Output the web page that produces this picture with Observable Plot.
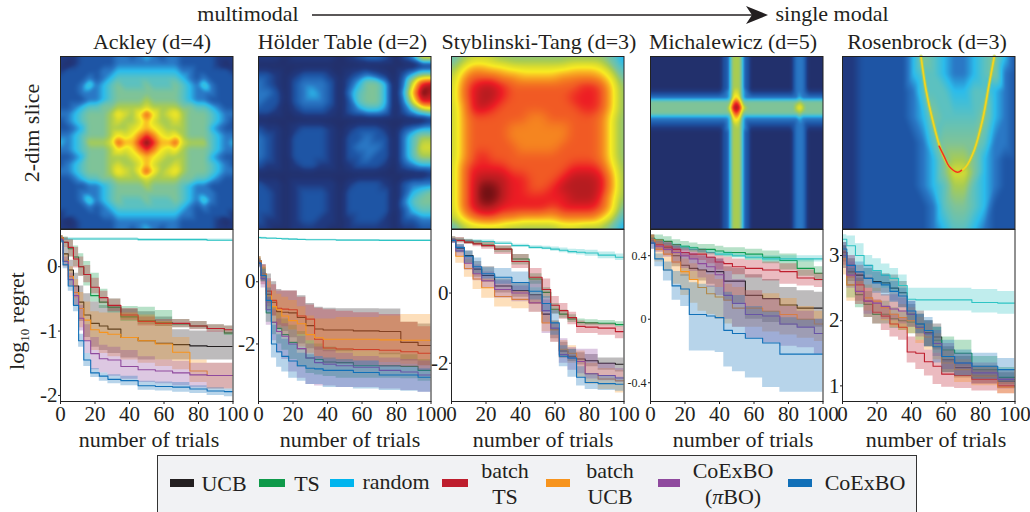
<!DOCTYPE html>
<html><head><meta charset="utf-8">
<script src="https://cdn.jsdelivr.net/npm/d3@7"></script>
<script src="https://cdn.jsdelivr.net/npm/@observablehq/plot@0.6"></script>
<style>
html,body{margin:0;padding:0;background:#fff}
#page{position:relative;width:1030px;height:512px;overflow:hidden;font-family:"Liberation Serif",serif;color:#231f20}
.t{position:absolute;white-space:nowrap;transform:translate(-50%,-50%);font-size:22px;line-height:1}
.rot{transform:translate(-50%,-50%) rotate(-90deg)}
.sw{position:absolute;height:8px}
sub{font-size:13px;line-height:0}
</style></head><body><div id="page"></div>
<script>
/* methods and colours */
var methods = ["UCB","TS","random","batchTS","batchUCB","piBO","CoExBO"];
var lineColors = ["#231f20","#0f9a4a","#2ec4c4","#be1e2d","#f7941d","#8f4a9e","#1170b8"];
var legendColors = ["#231f20","#0f9a4a","#00b5ee","#be1e2d","#f7941d","#8f4a9e","#1170b8"];
var heatColors = ["#22306c","#20397f","#1e55a5","#2a78c5","#2bbcec","#5cc1c0","#7fc398","#a9cc52","#d8dc30","#f9ec22","#f9b423","#f58520","#f15a24","#ed1c24","#b51c20","#6a0f12"];

/* Ackley */
var ackley_x=[0,3,6,9,12,15,20,25,30,40,50,60,70,80,90,100];
var ackley_UCB=[.45,.2,-.05,-.3,-.55,-.75,-.88,-.92,-.97,-1.1,-1.15,-1.19,-1.21,-1.23,-1.24,-1.24];
var ackley_UCB_lo=[.42,.1,-.2,-.5,-.85,-1.1,-1.25,-1.3,-1.35,-1.42,-1.45,-1.45,-1.45,-1.45,-1.45,-1.45];
var ackley_UCB_hi=[.48,.3,.1,-.1,-.3,-.42,-.55,-.6,-.62,-.66,-.7,-.78,-.98,-1,-1,-1.02];
var ackley_TS=[.45,.38,.28,.15,0,-.12,-.45,-.55,-.63,-.78,-.84,-.87,-.89,-.92,-.96,-1.03];
var ackley_TS_lo=[.42,.3,.15,0,-.15,-.3,-.55,-.65,-.72,-.85,-.9,-.93,-.95,-.97,-1,-1.07];
var ackley_TS_hi=[.48,.46,.42,.32,.2,.08,-.1,-.35,-.5,-.62,-.63,-.68,-.82,-.85,-.9,-.92];
var ackley_random=[.43,.43,.43,.43,.43,.43,.43,.43,.43,.43,.42,.42,.42,.42,.41,.41];
var ackley_random_lo=[.41,.41,.41,.41,.41,.41,.41,.41,.41,.41,.4,.4,.4,.4,.39,.39];
var ackley_random_hi=[.45,.45,.45,.45,.45,.45,.45,.45,.45,.45,.44,.44,.44,.44,.43,.43];
var ackley_batchTS=[.45,.38,.3,.12,0,-.12,-.32,-.48,-.6,-.75,-.85,-.88,-.88,-.92,-.96,-.98];
var ackley_batchTS_lo=[.42,.3,.15,-.02,-.15,-.25,-.42,-.58,-.7,-.83,-.92,-.93,-.95,-.98,-1.02,-1.05];
var ackley_batchTS_hi=[.48,.45,.42,.3,.15,.02,-.18,-.38,-.5,-.65,-.78,-.82,-.82,-.85,-.9,-.92];
var ackley_batchUCB=[.45,.1,-.15,-.4,-.65,-.83,-.98,-1.02,-1.05,-1.1,-1.15,-1.2,-1.33,-1.62,-1.69,-1.69];
var ackley_batchUCB_lo=[.42,0,-.3,-.6,-.95,-1.15,-1.3,-1.35,-1.4,-1.45,-1.5,-1.55,-1.6,-1.8,-1.9,-1.9];
var ackley_batchUCB_hi=[.48,.2,0,-.2,-.4,-.55,-.7,-.72,-.72,-.72,-.75,-.85,-1.1,-1.45,-1.5,-1.5];
var ackley_piBO=[.42,.08,-.2,-.45,-.8,-1.15,-1.35,-1.43,-1.45,-1.55,-1.6,-1.62,-1.65,-1.68,-1.69,-1.69];
var ackley_piBO_lo=[.38,0,-.3,-.6,-1,-1.35,-1.6,-1.65,-1.7,-1.75,-1.8,-1.82,-1.85,-1.88,-1.9,-1.9];
var ackley_piBO_hi=[.46,.15,-.1,-.3,-.6,-.9,-1.1,-1.22,-1.25,-1.3,-1.4,-1.45,-1.47,-1.5,-1.5,-1.5];
var ackley_CoExBO=[.4,.03,-.3,-.6,-1.15,-1.45,-1.65,-1.7,-1.75,-1.77,-1.85,-1.86,-1.87,-1.9,-1.93,-1.94];
var ackley_CoExBO_lo=[.36,-.03,-.38,-.7,-1.25,-1.55,-1.72,-1.78,-1.82,-1.85,-1.92,-1.93,-1.95,-1.97,-2,-2.02];
var ackley_CoExBO_hi=[.44,.1,-.2,-.5,-1.05,-1.35,-1.58,-1.65,-1.68,-1.7,-1.78,-1.79,-1.8,-1.85,-1.88,-1.9];

/* Holder Table */
var holder_x=[0,3,6,9,12,15,20,25,30,35,40,50,60,80,85,100];
var holder_UCB=[.67,.25,-.4,-.66,-.96,-.98,-1,-1.15,-1.41,-1.52,-1.55,-1.55,-1.58,-1.6,-1.95,-2.05];
var holder_UCB_lo=[.55,.05,-.7,-1.1,-1.5,-1.6,-1.8,-2,-2.15,-2.2,-2.25,-2.25,-2.25,-2.35,-2.55,-2.7];
var holder_UCB_hi=[.75,.55,.25,0,-.25,-.3,-.3,-.45,-.7,-.82,-.85,-.87,-.87,-.88,-1.3,-1.36];
var holder_TS=[.67,.2,-1,-1.3,-1.5,-1.7,-1.95,-2.15,-2.45,-2.5,-2.58,-2.6,-2.7,-2.7,-2.72,-2.85];
var holder_TS_lo=[.5,0,-1.3,-1.7,-2,-2.2,-2.5,-2.75,-2.95,-3,-3.05,-3.1,-3.1,-3.1,-3.12,-3.2];
var holder_TS_hi=[.8,.45,-.5,-.8,-1,-1.2,-1.4,-1.6,-1.9,-2,-2.1,-2.15,-2.25,-2.3,-2.35,-2.5];
var holder_random=[1.42,1.41,1.4,1.4,1.39,1.38,1.37,1.36,1.35,1.35,1.35,1.34,1.34,1.33,1.33,1.33];
var holder_random_lo=[1.4,1.39,1.38,1.38,1.37,1.36,1.35,1.34,1.33,1.33,1.33,1.32,1.32,1.31,1.31,1.31];
var holder_random_hi=[1.44,1.43,1.42,1.42,1.41,1.4,1.39,1.38,1.37,1.37,1.37,1.36,1.36,1.35,1.35,1.35];
var holder_batchTS=[.67,.2,-.3,-.6,-.85,-.88,-.9,-1.1,-1.2,-1.85,-2.13,-2.16,-2.18,-2.2,-2.25,-2.3];
var holder_batchTS_lo=[.5,-.1,-.8,-1.1,-1.4,-1.45,-1.55,-1.7,-1.9,-2.5,-2.65,-2.65,-2.7,-2.75,-2.75,-2.85];
var holder_batchTS_hi=[.8,.55,.1,-.1,-.3,-.3,-.3,-.5,-.75,-.85,-.9,-.95,-1,-1.05,-1.3,-1.45];
var holder_batchUCB=[.67,.25,-.45,-.8,-.9,-1.1,-1.25,-1.35,-1.7,-1.8,-1.85,-1.85,-1.85,-1.87,-1.88,-1.88];
var holder_batchUCB_lo=[.5,0,-.9,-1.3,-1.5,-1.7,-1.95,-2.1,-2.3,-2.4,-2.5,-2.55,-2.55,-2.6,-2.65,-2.7];
var holder_batchUCB_hi=[.8,.5,0,-.3,-.4,-.5,-.6,-.8,-1.1,-1.2,-1.2,-1.15,-1.15,-1.1,-1.05,-1.05];
var holder_piBO=[.6,.1,-.9,-1.3,-1.6,-1.75,-2,-2.15,-2.45,-2.6,-2.65,-2.7,-2.75,-2.85,-2.9,-3];
var holder_piBO_lo=[.45,-.2,-1.4,-1.9,-2.3,-2.5,-2.9,-3.1,-3.3,-3.35,-3.35,-3.4,-3.4,-3.45,-3.5,-3.55];
var holder_piBO_hi=[.7,.3,-.5,-.9,-1.2,-1.35,-1.55,-1.75,-2,-2.1,-2.2,-2.3,-2.4,-2.45,-2.5,-2.55];
var holder_CoExBO=[.6,.2,-.6,-2,-2.25,-2.4,-2.55,-2.7,-2.78,-2.8,-2.85,-2.85,-2.92,-3,-3,-3.07];
var holder_CoExBO_lo=[.45,0,-1,-2.45,-2.75,-2.9,-3.1,-3.2,-3.3,-3.3,-3.4,-3.4,-3.45,-3.5,-3.52,-3.55];
var holder_CoExBO_hi=[.7,.4,-.2,-1.4,-1.7,-1.85,-2,-2.3,-2.35,-2.4,-2.45,-2.5,-2.55,-2.7,-2.75,-2.8];

/* Styblinski-Tang */
var styb_x=[0,5,10,15,20,30,40,50,55,60,65,70,75,80,90,100];
var styb_UCB=[1.5,1.28,1.07,.68,.5,.2,.07,-.05,-.6,-1.03,-1.65,-1.8,-1.88,-1.93,-2,-2.03];
var styb_UCB_lo=[1.45,1.15,.85,.45,.3,0,-.12,-.3,-.85,-1.3,-1.85,-1.95,-2.05,-2.1,-2.2,-2.25];
var styb_UCB_hi=[1.55,1.38,1.2,.9,.75,.4,.3,.15,-.3,-.8,-1.4,-1.6,-1.7,-1.75,-1.85,-1.85];
var styb_TS=[1.52,1.5,1.45,1.42,1.37,1.25,.97,.4,.02,-.46,-.6,-.74,-.84,-.85,-.86,-.9];
var styb_TS_lo=[1.45,1.44,1.4,1.36,1.3,1.15,.8,.25,-.15,-.6,-.72,-.84,-.92,-.93,-.93,-.97];
var styb_TS_hi=[1.6,1.57,1.52,1.48,1.44,1.33,1.1,.55,.15,-.3,-.48,-.62,-.74,-.76,-.78,-.82];
var styb_random=[1.52,1.5,1.49,1.48,1.47,1.42,1.35,1.3,1.28,1.25,1.22,1.18,1.16,1.14,1.08,1.02];
var styb_random_lo=[1.48,1.46,1.45,1.44,1.43,1.38,1.31,1.25,1.23,1.19,1.15,1.11,1.08,1.05,.98,.93];
var styb_random_hi=[1.56,1.54,1.53,1.52,1.51,1.46,1.39,1.35,1.33,1.31,1.28,1.25,1.24,1.22,1.17,1.11];
var styb_batchTS=[1.52,1.5,1.45,1.4,1.35,1.25,.9,.45,.1,-.35,-.5,-.7,-.95,-.97,-1,-1.1];
var styb_batchTS_lo=[1.42,1.42,1.38,1.32,1.25,1.1,.7,.15,-.3,-.6,-.75,-.9,-1.15,-1.15,-1.2,-1.3];
var styb_batchTS_hi=[1.6,1.58,1.52,1.48,1.45,1.35,1.1,.7,.4,-.1,-.3,-.55,-.8,-.85,-.88,-.95];
var styb_batchUCB=[1.5,1.05,.7,.4,.15,-.1,-.18,-.28,-.85,-1.05,-1.6,-1.72,-1.95,-2.3,-2.45,-2.5];
var styb_batchUCB_lo=[1.45,.85,.45,.1,-.15,-.4,-.45,-.55,-1.1,-1.4,-1.85,-2,-2.4,-2.6,-2.75,-2.85];
var styb_batchUCB_hi=[1.55,1.22,.95,.65,.4,.1,.05,-.05,-.65,-.8,-1.35,-1.5,-1.65,-2,-2.15,-2.2];
var styb_piBO=[1.5,1.2,.85,.55,.35,.1,0,-.28,-.5,-1,-1.75,-1.85,-1.95,-2.3,-2.35,-2.42];
var styb_piBO_lo=[1.42,1.05,.65,.35,.15,-.15,-.25,-.55,-1.15,-1.4,-2,-2.2,-2.3,-2.45,-2.5,-2.55];
var styb_piBO_hi=[1.55,1.35,1.05,.8,.6,.35,.2,-.05,-.2,-.85,-1.3,-1.55,-1.6,-1.6,-2,-2.15];
var styb_CoExBO=[1.5,1.3,1.05,.75,.55,.45,.3,.05,-.3,-.85,-1.8,-1.85,-2.4,-2.55,-2.58,-2.6];
var styb_CoExBO_lo=[1.42,1.15,.85,.55,.4,.25,.05,-.2,-.55,-1.2,-2.1,-2.4,-2.65,-2.75,-2.78,-2.8];
var styb_CoExBO_hi=[1.55,1.4,1.2,1,.72,.7,.6,.35,-.1,-.5,-1.5,-1.6,-2.1,-2.3,-2.35,-2.4];

/* Michalewicz */
var mich_x=[0,5,10,15,20,25,30,35,40,45,50,60,70,80,90,100];
var mich_UCB=[.5,.47,.45,.4,.34,.32,.31,.3,.3,.24,.24,.15,.13,.09,.07,.07];
var mich_UCB_lo=[.47,.43,.4,.33,.27,.25,.24,.22,.2,.12,.1,0,-.02,-.04,-.05,-.05];
var mich_UCB_hi=[.53,.5,.48,.45,.42,.41,.4,.39,.38,.33,.32,.28,.25,.2,.18,.17];
var mich_TS=[.51,.5,.49,.47,.46,.45,.44,.44,.43,.42,.42,.41,.39,.37,.32,.29];
var mich_TS_lo=[.48,.47,.46,.44,.43,.42,.41,.41,.4,.39,.39,.37,.35,.31,.27,.24];
var mich_TS_hi=[.53,.53,.52,.5,.49,.48,.47,.47,.46,.45,.45,.44,.43,.41,.38,.33];
var mich_random=[.5,.49,.47,.46,.45,.44,.43,.42,.41,.41,.4,.39,.38,.38,.38,.38];
var mich_random_lo=[.485,.475,.455,.445,.435,.425,.415,.405,.395,.395,.385,.375,.36,.36,.36,.36];
var mich_random_hi=[.515,.505,.485,.475,.465,.455,.445,.435,.425,.425,.415,.405,.4,.4,.4,.4];
var mich_batchTS=[.5,.47,.46,.44,.42,.41,.41,.39,.36,.35,.33,.32,.31,.3,.26,.25];
var mich_batchTS_lo=[.47,.44,.43,.41,.39,.38,.37,.35,.31,.3,.28,.26,.24,.22,.21,.2];
var mich_batchTS_hi=[.53,.5,.49,.47,.45,.44,.44,.42,.4,.39,.38,.37,.36,.35,.31,.29];
var mich_batchUCB=[.5,.44,.41,.36,.3,.25,.2,.16,.14,.12,.07,.07,.05,.03,0,-.03];
var mich_batchUCB_lo=[.47,.36,.3,.22,.15,.1,.05,.03,0,-.03,-.05,-.05,-.08,-.1,-.12,-.14];
var mich_batchUCB_hi=[.53,.5,.47,.43,.38,.35,.31,.28,.25,.22,.2,.18,.16,.13,.08,.05];
var mich_piBO=[.48,.46,.44,.42,.4,.38,.35,.33,.28,.15,.1,.03,.02,-.03,-.05,-.09];
var mich_piBO_lo=[.44,.42,.39,.35,.32,.3,.26,.2,.15,0,-.05,-.12,-.15,-.17,-.18,-.22];
var mich_piBO_hi=[.51,.49,.48,.46,.44,.42,.4,.39,.38,.3,.25,.18,.13,.08,.05,0];
var mich_CoExBO=[.48,.38,.31,.21,.19,.03,.03,.02,.01,-.07,-.09,-.12,-.15,-.22,-.22,-.22];
var mich_CoExBO_lo=[.44,.33,.24,.12,.08,-.2,-.2,-.2,-.21,-.3,-.33,-.37,-.43,-.46,-.46,-.46];
var mich_CoExBO_hi=[.5,.41,.36,.3,.28,.23,.22,.21,.2,.17,.15,.08,.05,.01,0,0];

/* Rosenbrock */
var ros_x=[0,5,10,15,20,25,30,35,40,45,50,55,60,70,80,100];
var ros_UCB=[3.05,2.75,2.7,2.65,2.6,2.58,2.5,2.43,2.1,1.95,1.82,1.75,1.4,1.28,1.15,1.07];
var ros_UCB_lo=[2.9,2.6,2.55,2.5,2.45,2.42,2.3,2.2,1.9,1.8,1.6,1.55,1.2,1.12,1.03,.97];
var ros_UCB_hi=[3.15,2.95,2.85,2.8,2.75,2.72,2.7,2.6,2.25,2.15,2,1.95,1.6,1.45,1.3,1.2];
var ros_TS=[3,2.55,2.4,2.25,2.1,2.1,2.03,2,1.98,1.9,1.8,1.7,1.55,1.5,1.25,1.13];
var ros_TS_lo=[2.8,2.35,2.2,2.05,1.95,1.95,1.88,1.85,1.8,1.7,1.6,1.5,1.35,1.3,1.1,1.02];
var ros_TS_hi=[3.15,2.8,2.65,2.45,2.3,2.3,2.2,2.15,2.12,2.1,2,1.9,1.75,1.7,1.45,1.28];
var ros_random=[3.25,3.15,3,2.85,2.77,2.7,2.65,2.54,2.33,2.32,2.32,2.32,2.32,2.32,2.28,2.27];
var ros_random_lo=[3.1,3,2.85,2.7,2.6,2.5,2.45,2.4,2.15,2.15,2.15,2.15,2.15,2.15,2.12,2.1];
var ros_random_hi=[3.32,3.3,3.18,3,2.95,2.87,2.8,2.7,2.5,2.5,2.5,2.5,2.5,2.5,2.48,2.45];
var ros_batchTS=[3.05,2.85,2.55,2.3,2.13,2.07,1.95,1.9,1.52,1.5,1.37,1.3,1.18,1.16,1.1,1];
var ros_batchTS_lo=[2.85,2.65,2.3,2.05,1.95,1.85,1.75,1.7,1.35,1.25,1.15,1.02,.98,.96,.92,.88];
var ros_batchTS_hi=[3.2,3,2.75,2.5,2.32,2.22,2.1,2.05,1.75,1.7,1.55,1.5,1.4,1.35,1.25,1.12];
var ros_batchUCB=[2.95,2.55,2.45,2.35,2.3,2.2,2.1,2.05,2,1.88,1.75,1.6,1.35,1.25,1.15,.98];
var ros_batchUCB_lo=[2.7,2.3,2.25,2.15,2.1,2,1.9,1.85,1.8,1.65,1.55,1.4,1.2,1.05,1,.88];
var ros_batchUCB_hi=[3.1,2.75,2.65,2.55,2.5,2.4,2.3,2.25,2.2,2.05,1.95,1.8,1.55,1.4,1.3,1.1];
var ros_piBO=[3,2.7,2.45,2.3,2.27,2.22,2.18,2.15,2.1,1.9,1.8,1.65,1.45,1.35,1.2,1.1];
var ros_piBO_lo=[2.8,2.5,2.25,2.1,2.1,2.02,2,1.95,1.9,1.75,1.6,1.45,1.25,1.15,1.03,.95];
var ros_piBO_hi=[3.15,2.9,2.65,2.5,2.45,2.4,2.4,2.35,2.3,2.1,2,1.85,1.65,1.5,1.35,1.25];
var ros_CoExBO=[3.1,2.85,2.75,2.65,2.58,2.55,2.45,2.38,2.15,1.95,1.85,1.6,1.45,1.35,1.3,1.25];
var ros_CoExBO_lo=[2.95,2.7,2.6,2.5,2.42,2.38,2.28,2.2,2,1.8,1.6,1.35,1.2,1.15,1.1,1.05];
var ros_CoExBO_hi=[3.2,3,2.9,2.85,2.75,2.7,2.6,2.5,2.3,2.1,2.05,1.9,1.7,1.55,1.5,1.42];

/* heat map levels (hex digit = colour level) */
var ackleyQuadrant=["fdaac87775434","db98976665433","a987776664322","a877876665432","c978976665433","8777766554322","7666654332222","6666654333222","6555654353222","5555543232222","4444433222221","3333322222101","4323322222111"];
var holderRows=["11101111101233202499","00000000000000000011","22101222101232102466","321023332024664038de","33202343203566404afe","322023332025664038dd","22101222102344302467","00000000000000000001","21101222101222102344","32102222102232203577","32102222102333203588","32102222102232203577","21101221101222102344","00000000000000000001","21101111101222102333","22101222102222202456","22101222102222203566","22101222102222202455","21101221101222102233","11001111001111101122"];
var stybRows=["567776666666666653","68aa99888888999864","7acccbbaaaabbbba85","7bdeedcccccccddc96","7bdeedccccccdddc96","7adedccccccccddc96","7accccccbbcccccb86","7accccbbbbbbcccb86","7accccbbbbbbcccb86","7acccccbbbbccccb86","7acdcccccccccccb86","7bddddccccccdddc96","7bdeeeddcccdeeeda6","7bdffeddccdeeeeda6","7bdffeddddddeeec96","7bdeedddddcddddc95","79bccbbaaaabbbb974","467777666667766653"];
var michX=[0,.4,.425,.445,.462,.475,.497,.52,.535,.55,.57,.585,.81,.83,.85,.865,.88,.9,.92,1];
var michY=[0,.18,.2,.24,.25,.262,.28,.296,.313,.33,.345,.36,.39,.415,.44,1];
var michRows=["00224777422002333200","00224777422002333200","11234787432112333211","333348a8433333343333","444459b9544444464444","66666ada666666676666","66667cec766666787666","66669dfd976666898666","66667cec766666787666","66666ada666666676666","444459b9544444464444","333348a8433333343333","22234787432222333222","11234777432112333211","00224777422002333200","00224777422002333200"];
var rosY=[0,.1,.2,.35,.5,.6,.67,.75,.87,1];
var rosRows=["112222246543345642","112222245543345632","112222235554455432","112222234655556432","112222223566665332","112222223467764322","112222223468864322","112222223457754322","112222222356654222","112222222345543222"];
var ridgeX=[.455,.484,.522,.571,.619,.667,.716,.764,.812,.851,.88];
var ridgeY=[0,.193,.367,.542,.638,.671,.638,.542,.367,.155,0];
var ridgeHotX=[.56,.59,.619,.667,.69];
var ridgeHotY=[.52,.58,.638,.671,.66];

/* labels */
var titles=["Ackley (d=4)","Hölder Table (d=2)","Styblinski-Tang (d=3)","Michalewicz (d=5)","Rosenbrock (d=3)"];
var titleX=[152,342.5,539,733,927];
var xLabelX=[149,350,543,743,936];
var xLabel="number of trials";
var xTicks=[0,20,40,60,80,100];
var yTicks=[[0,-1,-2],[0,-2],[0,-2],[.4,0,-.4],[1,2,3]];

var page=document.getElementById("page");
function text(html,x,y,cls,size){var d=document.createElement("div");d.className="t "+(cls||"");d.style.left=x+"px";d.style.top=y+"px";if(size)d.style.fontSize=size+"px";d.innerHTML=html;page.appendChild(d);return d;}
function place(el,x,y){el.style.position="absolute";el.style.left=x+"px";el.style.top=y+"px";el.style.maxWidth="none";page.appendChild(el);}

function gridCells(xs,ys,rows){var c=[];rows.forEach(function(r,j){for(var i=0;i<xs.length;i++){c.push({x:xs[i],y:ys[j],v:parseInt(r[i],16)});}});return c;}
function uniform(n){return d3.range(n).map(function(i){return i/(n-1);});}
function mirror(q){var full=q.map(function(r){return r.split("").reverse().join("").slice(0,12)+r;});return full.slice(1).reverse().concat(full);}
function smooth(r){var base=Plot.interpolatorBarycentric();return function(index,w,h,X,Y,V){var a=Float64Array.from(base(index,w,h,X,Y,V));d3.blur2({data:a,width:w},r);return a;};}

var heatData=[
 gridCells(uniform(25),uniform(25),mirror(ackleyQuadrant)),
 gridCells(uniform(20),uniform(20),holderRows),
 gridCells(uniform(18),uniform(18),stybRows),
 gridCells(michX,michY,michRows),
 gridCells(uniform(18),rosY,rosRows)
];
var blurR=[1.2,1.6,4,.8,1.2];
var panelX=[60,257.5,451,649.5,842];
var keys=["ackley","holder","styb","mich","ros"];
var yDomains=[[-2.094,.578],[-3.85,1.68],[-3.09,1.81],[-.518,.565],[.76,3.4]];
var W=172.5;

keys.forEach(function(k,p){
  var extra=[];
  if(k==="ros"){
    var ridge=ridgeX.map(function(x,i){return {x:x,y:ridgeY[i]};});
    var hot=ridgeHotX.map(function(x,i){return {x:x,y:ridgeHotY[i]};});
    extra=[
      Plot.line(ridge,{x:"x",y:"y",stroke:"#b8d040",strokeWidth:4,strokeOpacity:.5,curve:"catmull-rom"}),
      Plot.line(ridge,{x:"x",y:"y",stroke:"#f5d51e",strokeWidth:1.8,curve:"catmull-rom"}),
      Plot.line(hot,{x:"x",y:"y",stroke:"#ee3324",strokeWidth:1.5,curve:"catmull-rom"})
    ];
  }
  var heat=Plot.plot({
    width:W,height:172.5,margin:0,
    x:{domain:[0,1],axis:null},y:{domain:[1,0],axis:null},
    color:{type:"linear",domain:d3.range(16),range:heatColors},
    style:{background:"transparent",overflow:"visible"},
    marks:[
      Plot.raster(heatData[p],{x:"x",y:"y",fill:"v",interpolate:smooth(blurR[p])})
    ].concat(extra,[Plot.frame({stroke:"#222",strokeWidth:1})])
  });
  place(heat,panelX[p],56);
  text(titles[p],titleX[p],42,"",22);
  text(xLabel,xLabelX[p],440,"",22);

  var marks=[];
  var xs=window[k+"_x"];
  methods.forEach(function(m,mi){
    var mean=window[k+"_"+m],lo=window[k+"_"+m+"_lo"],hi=window[k+"_"+m+"_hi"];
    var rows=xs.map(function(x,i){return {x:x,y:mean[i],lo:lo[i],hi:hi[i]};});
    marks.push(Plot.areaY(rows,{x:"x",y1:"lo",y2:"hi",fill:lineColors[mi],fillOpacity:.3,curve:"step",clip:true}));
    marks.push(Plot.line(rows,{x:"x",y:"y",stroke:lineColors[mi],strokeWidth:1.1,curve:"step",clip:true}));
  });
  var small=(k==="mich");
  marks.push(Plot.frame({stroke:"#222",strokeWidth:1}));
  marks.push(Plot.axisX({ticks:xTicks,tickSize:3,tickPadding:2,tickFormat:function(d){return String(d);},label:null,fontSize:21}));
  marks.push(Plot.axisY({ticks:yTicks[p],tickSize:2,tickPadding:small?2:1,tickFormat:function(d){return String(d);},label:null,fontSize:small?12:21}));
  var mL=40,mB=30;
  var chart=Plot.plot({
    width:W+mL+2,height:172+mB,marginLeft:mL,marginRight:2,marginTop:0,marginBottom:mB,
    x:{domain:[0,100]},y:{domain:yDomains[p]},
    style:{background:"transparent",overflow:"visible",fontFamily:"Liberation Serif",fontSize:"21px",color:"#231f20"},
    marks:marks
  });
  place(chart,panelX[p]-mL,229);
});

text("2-dim slice",32,133,"rot",22);
text("log<sub>10</sub> regret",17,321,"rot",22);

/* top arrow */
text("multimodal",248,14,"",22);
text("single modal",832,14,"",22);
var ns="http://www.w3.org/2000/svg";
var ar=document.createElementNS(ns,"svg");
ar.setAttribute("width","470");ar.setAttribute("height","20");
ar.innerHTML='<line x1="0" y1="10" x2="440" y2="10" stroke="#231f20" stroke-width="1.6"/><polygon points="434,1 456,10 434,19 440,10" fill="#231f20"/>';
ar.style.position="absolute";ar.style.left="312px";ar.style.top="5px";page.appendChild(ar);

/* legend */
var box=document.createElement("div");
box.style.cssText="position:absolute;left:157px;top:455px;width:760px;height:60px;background:#f1f2f4;border:1px solid #333;box-sizing:border-box";
page.appendChild(box);
var legendSw=[[170,24],[259,26],[330,24],[442,26],[546,24],[658,22],[788,24]];
legendSw.forEach(function(s,i){var d=document.createElement("div");d.className="sw";d.style.cssText="left:"+s[0]+"px;width:"+s[1]+"px;top:479px;background:"+legendColors[i];page.appendChild(d);});
text("UCB",224,484);text("TS",307,484);text("random",396,482);
text("batch",505,471);text("TS",505,497);
text("batch",610,471);text("UCB",610,497);
text("CoExBO",733,471);text("(<i>π</i>BO)",733,497);
text("CoExBO",865,483);
</script></body></html>
